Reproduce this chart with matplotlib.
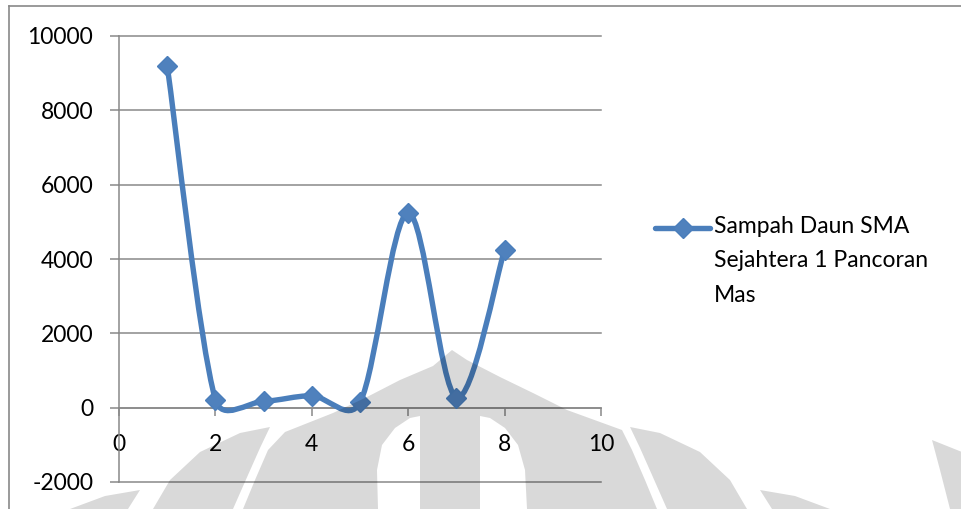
import numpy as np
import matplotlib
matplotlib.use("Agg")
import matplotlib.pyplot as plt
from matplotlib.path import Path
from matplotlib.patches import PathPatch
from matplotlib.lines import Line2D

plt.rcParams['font.family'] = ['Lato', 'DejaVu Sans']
plt.rcParams['axes.unicode_minus'] = False

# sample number vs. leaf litter weight
x = [1, 2, 3, 4, 5, 6, 7, 8]
y = [9200, 215, 170, 320, 140, 5240, 270, 4250]
series_name = 'Sampah Daun SMA\nSejahtera 1 Pancoran\nMas'
x_ticks = [0, 2, 4, 6, 8, 10]
y_ticks = [-2000, 0, 2000, 4000, 6000, 8000, 10000]

BLUE = '#4a7ebb'
MARK = '#4f81bd'
GREY = '#898989'
W, H = 962, 509
FS = 16.5
LW = 3.9


def smooth_path(ax, xs, ys, tension=1/6):
    """Bezier smoothing in screen space, tangents capped at half a segment."""
    pts = ax.transData.transform(np.column_stack([xs, ys]))
    n = len(pts)
    verts, codes = [pts[0]], [Path.MOVETO]
    for i in range(n - 1):
        p0, p1 = pts[max(i - 1, 0)], pts[i]
        p2, p3 = pts[i + 1], pts[min(i + 2, n - 1)]
        seg = np.hypot(*(p2 - p1))
        t1 = (p2 - p0) * tension
        t2 = (p3 - p1) * tension
        for t in (t1, t2):
            ln = np.hypot(*t)
            if ln > seg / 2:
                t *= (seg / 2) / ln
        verts += [p1 + t1, p2 - t2, p2]
        codes += [Path.CURVE4] * 3
    verts = ax.transData.inverted().transform(np.array(verts))
    return Path(verts, codes)


def fig_poly(points, clockwise):
    pts = np.array(points, float)
    pts = np.column_stack([pts[:, 0] / W, 1 - pts[:, 1] / H])
    area = 0.5 * np.sum(pts[:, 0] * np.roll(pts[:, 1], -1) - np.roll(pts[:, 0], -1) * pts[:, 1])
    if (area < 0) != clockwise:
        pts = pts[::-1]
    return Path(np.vstack([pts, pts[:1]]), closed=True)


fig = plt.figure(figsize=(W / 100, H / 100), dpi=100)
ax = fig.add_axes([119 / W, 1 - 482 / H, 482 / W, 446 / H])
ax.set_xlim(0, 10)
ax.set_ylim(-2000, 10000)

for s in ['top', 'right']:
    ax.spines[s].set_visible(False)
ax.spines['bottom'].set_position(('data', 0))
for s in ['left', 'bottom']:
    ax.spines[s].set_color(GREY)
    ax.spines[s].set_linewidth(1.1)

ax.set_xticks(x_ticks)
ax.set_yticks(y_ticks)
ax.grid(axis='y', color=GREY, lw=1.1)
ax.set_axisbelow(True)
for gl in ax.get_ygridlines():
    gl.set_clip_on(False)
ax.tick_params(axis='y', direction='out', length=6.5, width=1.1, color=GREY,
               pad=12, labelsize=FS)
ax.tick_params(axis='x', direction='out', length=6, width=1.1, color=GREY,
               pad=13, labelsize=FS)

ax.add_patch(PathPatch(smooth_path(ax, x, y), fill=False, edgecolor=BLUE,
                       lw=LW, capstyle='round', joinstyle='round', zorder=3))
ax.plot(x, y, 'D', ms=10, color=MARK, mec=BLUE, mew=1, zorder=4, clip_on=False)

# legend entry
ly = 1 - 228 / H
fig.add_artist(Line2D([655 / W, 710 / W], [ly, ly], color=BLUE, lw=LW,
                      solid_capstyle='round'))
fig.add_artist(Line2D([683 / W], [ly], marker='D', ms=10, color=MARK,
                      mec=BLUE, mew=1))
fig.text(714 / W, 1 - 216 / H, series_name, ha='left', va='top',
         fontsize=FS, linespacing=1.78)

# chart frame (top and left edges)
fig.add_artist(Line2D([9 / W, 1], [1 - 6 / H] * 2, color=GREY, lw=1.2))
fig.add_artist(Line2D([9 / W] * 2, [1 - 6 / H, 0], color=GREY, lw=1.2))

# faint emblem in the lower half
dome = [(243, 509), (255, 480), (268, 450), (285, 432), (333, 413), (367, 397),
        (400, 380), (433, 366), (452, 350), (467, 360), (500, 377), (533, 393),
        (567, 410), (600, 422), (622, 430), (632, 450), (645, 480), (657, 509)]
slit_l = [(420, 416), (420, 509), (378, 509), (377, 470), (382, 445), (395, 428), (410, 418)]
slit_r = [(480, 416), (490, 418), (505, 428), (518, 445), (525, 470), (527, 509), (480, 509)]
band_r = [(630, 427), (660, 433), (700, 452), (730, 480), (747, 509), (667, 509),
          (652, 475), (640, 448)]
band_l = [(900 - a, b) for a, b in band_r]
tip_r = [(760, 490), (795, 496), (830, 509), (772, 509)]
tip_l = [(900 - a, b) for a, b in tip_r]
wing_r = [(932, 440), (962, 452), (962, 509), (950, 509), (940, 470)]

emblem = Path.make_compound_path(
    fig_poly(dome, True), fig_poly(slit_l, False), fig_poly(slit_r, False),
    fig_poly(band_r, True), fig_poly(band_l, True),
    fig_poly(tip_r, True), fig_poly(tip_l, True), fig_poly(wing_r, True))
fig.add_artist(PathPatch(emblem, transform=fig.transFigure, facecolor='black',
                         edgecolor='none', alpha=0.15, zorder=10))

fig.savefig('out.png', dpi=100)
